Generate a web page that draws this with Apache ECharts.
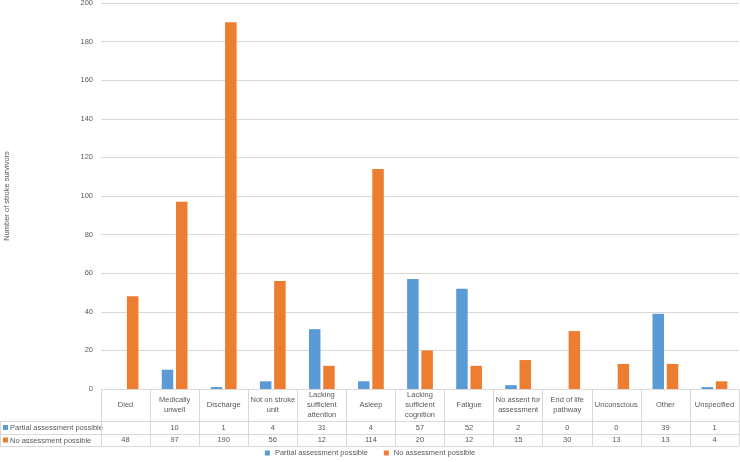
<!DOCTYPE html>
<html><head><meta charset="utf-8">
<script src="https://cdn.jsdelivr.net/npm/echarts@6/dist/echarts.min.js"></script>
<style>html,body{margin:0;padding:0;background:#fff}#c{width:740px;height:462px}</style>
</head><body><div id="c"></div>
<script>
const categories = ['Died','Medically\nunwell','Discharge','Not on stroke\nunit','Lacking\nsufficient\nattention','Asleep','Lacking\nsufficient\ncognition','Fatigue','No assent for\nassessment','End of life\npathway','Unconscious','Other','Unspecified'];
const partialValues = [null,10,1,4,31,4,57,52,2,0,0,39,1];
const noAssessValues = [48,97,190,56,12,114,20,12,15,30,13,13,4];
const seriesNames = ['Partial assessment possible','No assessment possible'];
const yTicks = {min:0,max:200,interval:20};

const FONT = '"Liberation Sans", Arial, sans-serif';
const TXT = '#595959';
const LINE = '#d9d9d9';
const BLUE = '#5B9BD5', ORANGE = '#ED7D31';
const FS = 7.5;

const chart = echarts.init(document.getElementById('c'), null, {renderer:'canvas'});
const gridLeft = 101, gridBottomY = 389;
const r1 = 421, r2 = 434, r3 = 446;

function fmtVal(arr){ return function(v, i){ const x = arr[i]; return (x===null||x===undefined)?'':String(x); }; }

const option = {
  backgroundColor:'#fff',
  animation:false,
  textStyle:{fontFamily:FONT},
  grid:{left:gridLeft, right:1, top:3, bottom:462-gridBottomY, containLabel:false, outerBoundsMode:'none'},
  legend:{
    bottom:0, left:'center', itemWidth:5, itemHeight:5, itemGap:16, icon:'rect',
    textStyle:{fontSize:FS, color:TXT, fontFamily:FONT},
    data:seriesNames
  },
  xAxis:[
    {type:'category', data:categories, position:'bottom',
     axisLine:{show:true, lineStyle:{color:LINE}},
     axisTick:{show:true, length:r3-gridBottomY, interval:0, lineStyle:{color:LINE}},
     axisLabel:{interval:0, fontSize:FS, color:TXT, lineHeight:10, margin:16, verticalAlign:'middle', fontFamily:FONT}},
    {type:'category', data:categories, position:'bottom', offset:r1-gridBottomY,
     axisLine:{show:true, lineStyle:{color:LINE}}, axisTick:{show:false},
     axisLabel:{interval:0, fontSize:FS, color:TXT, margin:6.5, verticalAlign:'middle', formatter:fmtVal(partialValues), fontFamily:FONT}},
    {type:'category', data:categories, position:'bottom', offset:r2-gridBottomY,
     axisLine:{show:true, lineStyle:{color:LINE}}, axisTick:{show:false},
     axisLabel:{interval:0, fontSize:FS, color:TXT, margin:6, verticalAlign:'middle', formatter:fmtVal(noAssessValues), fontFamily:FONT}},
    {type:'category', data:categories, position:'bottom', offset:r3-gridBottomY,
     axisLine:{show:true, lineStyle:{color:LINE}}, axisTick:{show:false}, axisLabel:{show:false}}
  ],
  yAxis:{
    type:'value', min:yTicks.min, max:yTicks.max, interval:yTicks.interval,
    name:'Number of stroke survivors', nameLocation:'middle', nameGap:90, nameRotate:90,
    nameTextStyle:{fontSize:FS, color:TXT, fontFamily:FONT},
    axisLine:{show:false}, axisTick:{show:false},
    axisLabel:{fontSize:FS, color:TXT, margin:8, fontFamily:FONT},
    splitLine:{lineStyle:{color:LINE}}
  },
  series:[
    {name:seriesNames[0], type:'bar', data:partialValues, barWidth:11.5, barGap:'24%', itemStyle:{color:BLUE}},
    {name:seriesNames[1], type:'bar', data:noAssessValues, barWidth:11.5, barGap:'24%', itemStyle:{color:ORANGE}}
  ],
  graphic:[
    {type:'line', shape:{x1:0,y1:r1+0.5,x2:gridLeft,y2:r1+0.5}, style:{stroke:LINE}},
    {type:'line', shape:{x1:0,y1:r2+0.5,x2:gridLeft,y2:r2+0.5}, style:{stroke:LINE}},
    {type:'line', shape:{x1:0,y1:r3+0.5,x2:gridLeft,y2:r3+0.5}, style:{stroke:LINE}},
    {type:'line', shape:{x1:0.5,y1:r1,x2:0.5,y2:r3}, style:{stroke:LINE}},
    {type:'rect', shape:{x:3,y:(r1+r2)/2-2.5,width:5,height:5}, style:{fill:BLUE}},
    {type:'rect', shape:{x:3,y:(r2+r3)/2-2.5,width:5,height:5}, style:{fill:ORANGE}},
    {type:'text', x:10, y:(r1+r2)/2+0.5, style:{text:seriesNames[0], fontSize:FS, fill:TXT, verticalAlign:'middle', fontFamily:FONT}},
    {type:'text', x:10, y:(r2+r3)/2+0.5, style:{text:seriesNames[1], fontSize:FS, fill:TXT, verticalAlign:'middle', fontFamily:FONT}}
  ]
};
chart.setOption(option);
</script></body></html>
